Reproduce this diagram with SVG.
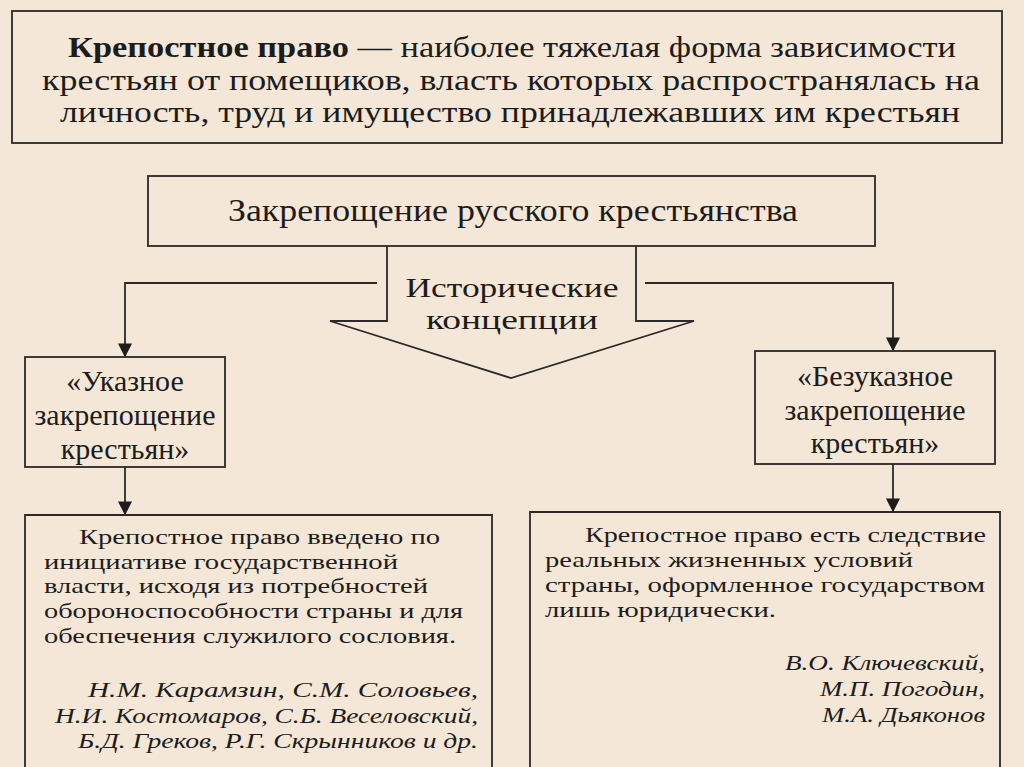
<svg xmlns="http://www.w3.org/2000/svg" width="1024" height="767" viewBox="0 0 1024 767">
<defs>
<style>
.box{fill:none;stroke:#2a2a2a;stroke-width:1.8}
.ln{fill:none;stroke:#2a2a2a;stroke-width:1.8}
.t{font-family:"Liberation Serif","Times New Roman",serif;fill:#1c1c1c}
.h{font-size:29px}
.m{font-size:30px;text-anchor:middle}
.b{font-size:21px}
.i{font-size:21px;font-style:italic;text-anchor:end}
</style>
<marker id="ah" viewBox="0 0 10 10" refX="9" refY="5" markerWidth="14" markerHeight="14" markerUnits="userSpaceOnUse" orient="auto">
<path d="M0,0 L10,5 L0,10 Z" fill="#1c1c1c"/>
</marker>
</defs>
<rect width="1024" height="767" fill="#f4e7d7"/>

<g id="definition">
<rect class="box" x="12" y="11" width="990" height="132"/>
<text class="t h" x="68" y="57" textLength="888" lengthAdjust="spacingAndGlyphs"><tspan font-weight="bold">Крепостное право</tspan> — наиболее тяжелая форма зависимости</text>
<text class="t h" x="42" y="90" textLength="938" lengthAdjust="spacingAndGlyphs">крестьян от помещиков, власть которых распространялась на</text>
<text class="t h" x="60" y="122" textLength="900" lengthAdjust="spacingAndGlyphs">личность, труд и имущество принадлежавших им крестьян</text>
</g>

<g id="enserfment">
<rect class="box" x="148" y="176" width="727" height="70"/>
<text class="t" font-size="31" x="228" y="221" textLength="570" lengthAdjust="spacingAndGlyphs">Закрепощение русского крестьянства</text>
</g>

<g id="concepts">
<path class="ln" d="M387,246 L387,321 L330,321 L511,378 L694,321 L636,321 L636,246"/>
<text class="t" x="512" y="297" font-size="28" text-anchor="middle" textLength="213" lengthAdjust="spacingAndGlyphs">Исторические</text>
<text class="t" x="512" y="329" font-size="28" text-anchor="middle" textLength="172" lengthAdjust="spacingAndGlyphs">концепции</text>
</g>

<g id="ukaznoe">
<rect class="box" x="25" y="357" width="200" height="110"/>
<text class="t m" x="125" y="391">«Указное</text>
<text class="t m" x="125" y="425">закрепощение</text>
<text class="t m" x="125" y="459">крестьян»</text>
</g>

<g id="bezukaznoe">
<rect class="box" x="755" y="351" width="240" height="113"/>
<text class="t m" x="875" y="386">«Безуказное</text>
<text class="t m" x="875" y="420">закрепощение</text>
<text class="t m" x="875" y="453">крестьян»</text>
</g>

<g id="left-desc">
<path class="box" d="M25,780 L25,515 L492,515 L492,780"/>
<text class="t b" x="79" y="544" textLength="361" lengthAdjust="spacingAndGlyphs">Крепостное право введено по</text>
<text class="t b" x="44" y="569" textLength="354" lengthAdjust="spacingAndGlyphs">инициативе государственной</text>
<text class="t b" x="44" y="593" textLength="384" lengthAdjust="spacingAndGlyphs">власти, исходя из потребностей</text>
<text class="t b" x="44" y="618" textLength="419" lengthAdjust="spacingAndGlyphs">обороноспособности страны и для</text>
<text class="t b" x="44" y="643" textLength="412" lengthAdjust="spacingAndGlyphs">обеспечения служилого сословия.</text>
<text class="t i" x="478" y="697" textLength="390" lengthAdjust="spacingAndGlyphs">Н.М. Карамзин, С.М. Соловьев,</text>
<text class="t i" x="478" y="723" textLength="423" lengthAdjust="spacingAndGlyphs">Н.И. Костомаров, С.Б. Веселовский,</text>
<text class="t i" x="478" y="748" textLength="400" lengthAdjust="spacingAndGlyphs">Б.Д. Греков, Р.Г. Скрынников и др.</text>
</g>

<g id="right-desc">
<path class="box" d="M530,780 L530,512 L1000,512 L1000,780"/>
<text class="t b" x="585" y="542" textLength="401" lengthAdjust="spacingAndGlyphs">Крепостное право есть следствие</text>
<text class="t b" x="545" y="567" textLength="368" lengthAdjust="spacingAndGlyphs">реальных жизненных условий</text>
<text class="t b" x="545" y="592" textLength="440" lengthAdjust="spacingAndGlyphs">страны, оформленное государством</text>
<text class="t b" x="545" y="617" textLength="231" lengthAdjust="spacingAndGlyphs">лишь юридически.</text>
<text class="t i" x="985" y="670" textLength="200" lengthAdjust="spacingAndGlyphs">В.О. Ключевский,</text>
<text class="t i" x="985" y="696" textLength="165" lengthAdjust="spacingAndGlyphs">М.П. Погодин,</text>
<text class="t i" x="985" y="722" textLength="163" lengthAdjust="spacingAndGlyphs">М.А. Дьяконов</text>
</g>

<g id="connectors">
<path class="ln" d="M377,283 L125,283 L125,356" marker-end="url(#ah)"/>
<path class="ln" d="M645,283 L893,283 L893,350" marker-end="url(#ah)"/>
<path class="ln" d="M125,467 L125,514" marker-end="url(#ah)"/>
<path class="ln" d="M893,464 L893,511" marker-end="url(#ah)"/>
</g>
</svg>
